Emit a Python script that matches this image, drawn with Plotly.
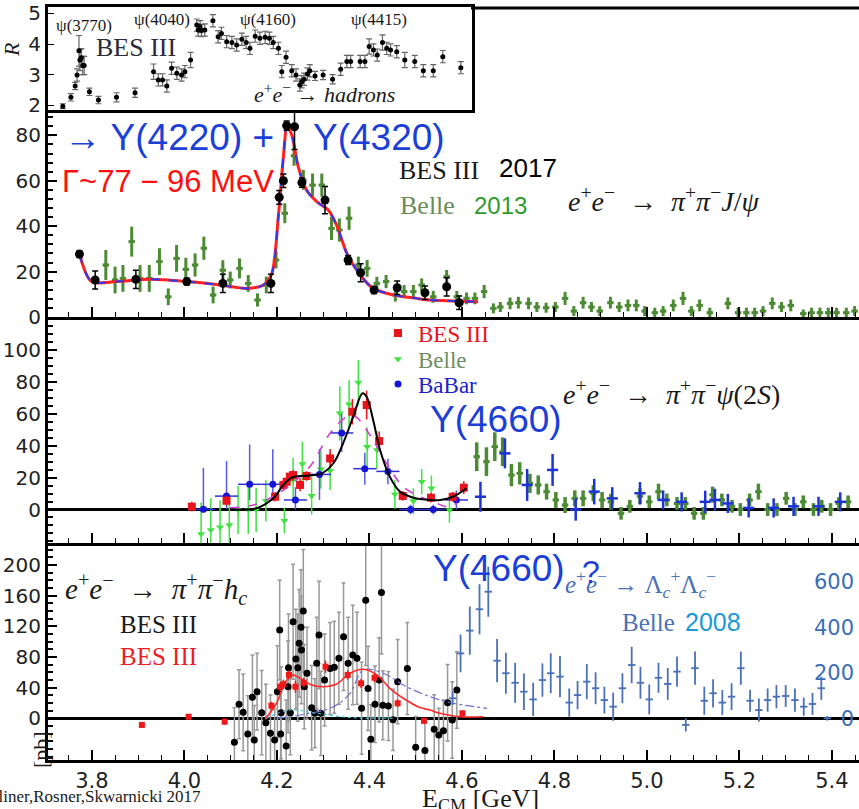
import plotly.graph_objects as go

# ---------------- R ratio (BES III), inset ----------------
r_energy = [3.741, 3.758, 3.767, 3.771, 3.775, 3.777, 3.780, 3.783, 3.786, 3.797,
            3.816, 3.854, 3.893, 3.932, 3.942, 3.951, 3.960, 3.970, 3.981, 3.991,
            3.998, 4.010, 4.023, 4.026, 4.030, 4.033, 4.040, 4.057, 4.068, 4.075,
            4.086, 4.097, 4.107, 4.118, 4.127, 4.135, 4.146, 4.156, 4.167, 4.176,
            4.184, 4.195, 4.202, 4.211, 4.223, 4.232, 4.240, 4.244, 4.249, 4.256,
            4.261, 4.272, 4.289, 4.309, 4.326, 4.339, 4.347, 4.367, 4.377, 4.386,
            4.395, 4.403, 4.414, 4.423, 4.431, 4.444, 4.461, 4.482, 4.500, 4.521,
            4.541, 4.579]
r_value = [1.97, 2.26, 2.63, 2.99, 3.78, 3.48, 3.55, 3.30, 3.30, 2.44,
           2.17, 2.26, 2.41, 3.10, 2.83, 2.83, 2.63, 3.21, 3.05, 2.99,
           3.10, 3.48, 4.62, 4.46, 4.57, 4.44, 4.46, 4.76, 4.24, 4.35,
           4.08, 4.05, 3.97, 4.16, 4.05, 3.86, 4.26, 4.19, 4.22, 4.19,
           4.05, 3.86, 3.10, 3.57, 3.13, 2.99, 2.66, 2.77, 2.85, 3.02,
           3.13, 2.96, 2.99, 2.85, 3.18, 3.43, 3.43, 3.43, 3.43, 3.92,
           3.81, 3.64, 4.05, 3.86, 3.81, 3.75, 3.48, 3.43, 3.13, 3.13,
           3.59, 3.23]
r_error = [0.08, 0.12, 0.12, 0.20, 0.50, 0.35, 0.30, 0.30, 0.30, 0.12,
           0.12, 0.15, 0.15, 0.25, 0.20, 0.20, 0.20, 0.20, 0.20, 0.20,
           0.20, 0.25, 0.20, 0.20, 0.20, 0.20, 0.20, 0.20, 0.20, 0.20,
           0.20, 0.20, 0.20, 0.20, 0.20, 0.20, 0.20, 0.20, 0.20, 0.20,
           0.20, 0.20, 0.20, 0.20, 0.20, 0.20, 0.20, 0.20, 0.20, 0.20,
           0.20, 0.15, 0.15, 0.15, 0.20, 0.20, 0.20, 0.20, 0.20, 0.25,
           0.20, 0.20, 0.25, 0.20, 0.20, 0.20, 0.25, 0.20, 0.20, 0.20,
           0.20, 0.20]

# ---------------- e+e- -> pi+pi- J/psi ----------------
jpsi_bes_energy = [3.773, 3.807, 3.895, 4.005, 4.083, 4.187, 4.205, 4.214, 4.221, 4.238,
                   4.254, 4.304, 4.354, 4.381, 4.410, 4.460, 4.520, 4.567, 4.594]
jpsi_bes_xsec = [27.7, 16.3, 16.6, 15.6, 14.8, 14.8, 52.7, 60.0, 84.3, 83.8,
                 59.2, 51.5, 25.1, 19.5, 11.9, 12.9, 10.7, 13.3, 6.3]
jpsi_bes_err = [1.5, 4, 4, 1.5, 4, 4, 3, 3, 2, 10,
                2, 6, 2, 4, 1.5, 3, 3, 4, 3]

jpsi_belle_energy = [3.830, 3.850, 3.867, 3.886, 3.904, 3.924, 3.946, 3.965, 3.983, 4.003,
                     4.023, 4.042, 4.062, 4.083, 4.099, 4.119, 4.138, 4.158, 4.177, 4.198,
                     4.217, 4.237, 4.257, 4.277, 4.297, 4.318, 4.335, 4.356, 4.376, 4.395,
                     4.416, 4.436, 4.456, 4.475, 4.495, 4.513, 4.538, 4.567, 4.589, 4.610,
                     4.628, 4.648, 4.668, 4.683, 4.704, 4.722, 4.744, 4.762, 4.782, 4.802,
                     4.823, 4.842, 4.862, 4.880, 4.898, 4.921, 4.940, 4.959, 4.977, 4.995,
                     5.017, 5.035, 5.057, 5.078, 5.096, 5.114, 5.136, 5.175, 5.197, 5.215,
                     5.233, 5.251, 5.271, 5.291, 5.311, 5.338, 5.356, 5.374, 5.392, 5.410,
                     5.431, 5.449]
jpsi_belle_xsec = [22.9, 16.3, 17.0, 33.2, 17.0, 17.0, 24.4, 8.9, 25.8, 21.0,
                   22.9, 30.3, 9.7, 20.6, 16.3, 21.4, 14.8, 7.5, 14.1, 25.1,
                   45.7, 71.0, 60.4, 58.1, 58.1, 39.0, 38.3, 43.5, 22.9, 21.4,
                   14.8, 15.6, 9.7, 11.2, 11.2, 14.1, 8.9, 17.8, 8.9, 8.2,
                   8.2, 11.2, 3.8, 4.4, 6.0, 6.3, 6.0, 4.4, 4.1, 4.4,
                   8.2, 2.6, 6.3, 4.4, 2.6, 6.3, 4.4, 5.1, 5.1, 2.6,
                   1.9, 2.6, 5.1, 8.2, 2.6, 5.1, 1.9, 6.0, 1.9, 1.9,
                   1.9, 2.6, 6.0, 4.4, 5.1, 1.5, 1.9, 1.9, 1.9, 1.9,
                   1.9, 2.6]
jpsi_belle_err = [6.6, 5.9, 5.9, 6.6, 5.9, 5.9, 5.9, 3.7, 5.9, 5.1,
                  5.1, 5.1, 3.7, 4.4, 3.7, 4.4, 3.7, 2.9, 3.7, 3.7,
                  4.4, 4.4, 4.4, 5.1, 5.1, 5.1, 5.1, 5.1, 3.7, 3.7,
                  2.9, 2.9, 2.9, 2.9, 2.9, 2.9, 2.6, 2.9, 2.6, 2.6,
                  2.6, 2.9, 2.2, 2.2, 2.6, 2.6, 2.6, 2.2, 2.2, 2.2,
                  2.9, 2.2, 2.6, 2.2, 2.2, 2.6, 2.2, 2.6, 2.6, 2.2,
                  2.2, 2.2, 2.6, 2.9, 2.2, 2.6, 2.2, 2.6, 2.2, 2.2,
                  2.2, 2.2, 2.6, 2.2, 2.6, 1.8, 2.2, 2.2, 2.2, 2.2,
                  2.2, 2.2]

jpsi_fit_energy = [3.773, 3.799, 3.853, 3.926, 4.005, 4.077, 4.135, 4.171, 4.189, 4.203,
                   4.214, 4.222, 4.232, 4.246, 4.264, 4.286, 4.311, 4.329, 4.351, 4.380,
                   4.408, 4.452, 4.502, 4.531, 4.635]
jpsi_fit_xsec = [27.7, 15.6, 15.6, 16.6, 15.6, 14.1, 12.6, 14.1, 19.2, 44.2,
                 70.6, 83.8, 80.2, 66.2, 55.9, 50.8, 47.1, 40.5, 28.1, 18.5,
                 12.6, 9.7, 8.2, 7.5, 6.7]

# ---------------- e+e- -> pi+pi- psi(2S) ----------------
psi2s_bes_energy = [4.016, 4.091, 4.196, 4.214, 4.221, 4.228, 4.235, 4.250, 4.264, 4.315,
                    4.363, 4.394, 4.421, 4.472, 4.533, 4.580, 4.604]
psi2s_bes_xsec = [1.8, 5.5, 8.0, 15.4, 17.4, 20.6, 21.6, 15.4, 21.0, 32.0,
                  61.3, 65.5, 42.9, 8.5, 7.4, 8.0, 13.7]
psi2s_bes_err = [3, 3, 3, 3, 3, 3, 3, 4, 3, 6,
                 8, 9, 6, 3, 3, 3, 4]

psi2s_belle_energy = [4.036, 4.057, 4.077, 4.097, 4.116, 4.138, 4.155, 4.176, 4.216, 4.235,
                      4.255, 4.275, 4.295, 4.315, 4.336, 4.356, 4.376, 4.395, 4.416, 4.455,
                      4.495, 4.513, 4.534, 4.573]
psi2s_belle_xsec = [-15.4, -12.9, -11.2, -9.7, -0.3, -0.3, -0.3, 5.5, -7.0, 18.5,
                    28.5, 8.7, 25.2, 24.3, 60.3, 66.0, 79.7, 39.4, 37.3, 9.5,
                    5.3, 17.4, 13.3, -0.3]
psi2s_belle_err = [20, 20, 17, 17, 15, 15, 14, 13, 8, 14,
                   14, 12, 12, 12, 17, 15, 14, 12, 12, 9,
                   8, 8, 8, 8]

psi2s_babar_energy = [4.041, 4.091, 4.141, 4.191, 4.240, 4.292, 4.340, 4.390, 4.440, 4.489,
                      4.538, 4.588]
psi2s_babar_xsec = [0.1, 8.4, 15.8, 15.8, 6.0, 22.0, 48.0, 25.6, 23.9, 0.0,
                    0.0, 6.0]
psi2s_babar_err_up = [26, 22, 25, 22, 8, 16, 12, 10, 8, 3, 3, 6]
psi2s_babar_err_down = [2, 8, 10, 10, 6, 16, 12, 10, 8, 3, 3, 6]
psi2s_babar_bin = [0.025, 0.025, 0.025, 0.025, 0.025, 0.025, 0.025, 0.025, 0.025, 0.025,
                   0.025, 0.025]

y4660_belle_energy = [4.632, 4.653, 4.671, 4.688, 4.707, 4.725, 4.747, 4.765, 4.783, 4.803,
                      4.823, 4.844, 4.862, 4.884, 4.903, 4.922, 4.944, 4.963, 4.985, 5.005,
                      5.025, 5.043, 5.065, 5.083, 5.102, 5.122, 5.142, 5.162, 5.184, 5.202,
                      5.222, 5.241, 5.261, 5.281, 5.301, 5.320, 5.338, 5.360, 5.378, 5.397,
                      5.415, 5.435]
y4660_belle_xsec = [33.1, 30.0, 39.4, 36.2, 21.6, 22.7, 16.4, 15.4, 11.2, 6.0,
                    2.8, 7.0, 7.0, 10.2, 6.0, 4.8, -2.4, 2.0, 8.3, 4.8,
                    11.2, 6.0, 3.8, 3.8, -2.4, -2.4, 9.3, 6.0, 2.0, 0.0,
                    6.0, 11.2, 0.0, 0.0, 7.0, 0.0, 4.8, 0.0, 2.0, 0.0,
                    3.8, 4.8]
y4660_belle_err = [9, 9, 9, 9, 7, 7, 6, 6, 5, 5,
                   5, 5, 5, 5, 5, 5, 4, 4, 5, 4,
                   5, 4, 4, 4, 4, 4, 5, 4, 4, 4,
                   4, 5, 4, 4, 4, 4, 4, 4, 4, 4,
                   4, 4]

y4660_babar_energy = [4.640, 4.693, 4.741, 4.796, 4.846, 4.886, 4.925, 4.985, 5.035, 5.075,
                      5.126, 5.147, 5.175, 5.220, 5.274, 5.317, 5.371, 5.418]
y4660_babar_xsec = [8.0, 35.2, 15.4, 24.8, 0.0, 11.2, 7.0, 10.2, 6.0, 4.8,
                    4.8, 6.0, 3.8, 1.0, 1.0, 2.0, 2.0, 4.8]
y4660_babar_err = [9.4, 9.4, 10, 10, 7, 8, 7, 7, 6, 6,
                   7, 7, 6, 6, 6, 6, 6, 6]

psi2s_fit_energy = [4.099, 4.156, 4.192, 4.214, 4.232, 4.264, 4.297, 4.322, 4.343, 4.365,
                    4.385, 4.394, 4.408, 4.423, 4.444, 4.466, 4.495, 4.531, 4.553, 4.581,
                    4.610]
psi2s_fit_xsec = [0.0, 0.8, 7.0, 15.4, 20.0, 21.2, 22.7, 29.0, 41.5, 58.2,
                  72.9, 70.7, 56.1, 37.3, 20.6, 11.2, 7.4, 6.0, 6.0, 8.0,
                  13.3]
psi2s_alt_energy = [4.099, 4.149, 4.214, 4.271, 4.315, 4.354, 4.371, 4.401, 4.437, 4.473,
                    4.517, 4.538, 4.567, 4.589]
psi2s_alt_xsec = [1.0, 2.8, 12.2, 26.8, 47.8, 58.6, 58.0, 46.7, 29.0, 14.3,
                  7.0, 4.9, 1.8, 3.9]

# ---------------- e+e- -> pi+pi- h_c  and  Lambda_c pairs ----------------
hc_bes_energy = [4.108, 4.118, 4.127, 4.137, 4.147, 4.151, 4.157, 4.167, 4.176, 4.186,
                 4.195, 4.201, 4.206, 4.208, 4.209, 4.220, 4.224, 4.225, 4.229, 4.235,
                 4.241, 4.245, 4.248, 4.252, 4.253, 4.257, 4.259, 4.265, 4.275, 4.282,
                 4.286, 4.291, 4.295, 4.303, 4.315, 4.324, 4.334, 4.344, 4.354, 4.364,
                 4.373, 4.383, 4.392, 4.397, 4.403, 4.412, 4.421, 4.426, 4.429, 4.441,
                 4.451, 4.461, 4.482, 4.500, 4.520, 4.540, 4.550, 4.560, 4.569, 4.579,
                 4.589]
hc_bes_xsec = [-31.3, 18.3, 7.8, -20.5, 27.4, -28.3, 34.7, 7.3, -5.7, -19.6,
               -28.3, 34.7, 115.0, -20.5, 7.3, -36.0, 41.2, 66.0, 7.3, 126.0,
               77.3, 66.0, 97.8, 118.6, 89.0, 140.0, 41.2, 58.7, 13.8, 6.5,
               71.7, 108.6, 6.5, 50.0, 65.0, 66.5, 78.2, 106.4, 71.7, 82.5,
               78.2, 13.0, 154.0, 39.0, -27.4, 18.3, 50.0, 164.0, 17.0, 16.0,
               -2.0, 47.8, 65.0, -37.8, -42.0, -14.3, -21.8, -16.1, 20.3, -2.2,
               36.9]
hc_bes_err = [45, 45, 50, 50, 55, 45, 50, 55, 50, 50,
              40, 60, 65, 55, 60, 60, 60, 70, 55, 75,
              65, 70, 70, 75, 70, 80, 55, 60, 55, 45,
              60, 70, 55, 60, 60, 60, 60, 70, 60, 65,
              60, 60, 85, 55, 45, 50, 55, 80, 45, 45,
              40, 55, 60, 40, 40, 45, 35, 40, 50, 50,
              50]

hc_xyz_energy = [3.908, 4.009, 4.087, 4.188, 4.207, 4.214, 4.226, 4.240, 4.258, 4.305,
                 4.353, 4.382, 4.411, 4.461, 4.518, 4.601]
hc_xyz_xsec = [-8.7, 2.0, -4.4, 16.4, 41.2, 44.3, 56.5, 41.2, 46.4, 67.3,
               56.5, 45.6, 52.9, 19.6, -3.3, 6.5]
hc_xyz_err = [4, 3, 4, 5, 6, 6, 6, 8, 6, 8,
              6, 6, 6, 5, 4, 4]

hc_fit_energy = [4.176, 4.199, 4.217, 4.232, 4.250, 4.275, 4.300, 4.329, 4.358, 4.387,
                 4.416, 4.444, 4.473, 4.509, 4.531, 4.552, 4.595, 4.646]
hc_fit_xsec = [0.0, 19.6, 45.6, 56.5, 52.2, 43.4, 41.2, 44.7, 58.7, 63.9,
               56.5, 39.1, 26.1, 14.0, 10.8, 6.5, 2.1, 2.0]
hc_broad_energy = [4.200, 4.250, 4.322, 4.358, 4.387, 4.430, 4.480, 4.531, 4.567, 4.603,
                   4.654]
hc_broad_xsec = [0.0, 4.3, 15.0, 32.6, 63.0, 58.7, 41.2, 28.2, 21.6, 17.3,
                 13.0]
hc_narrow_energy = [4.176, 4.228, 4.285, 4.358, 4.450]
hc_narrow_xsec = [0.0, 10.8, 6.5, 1.0, 0.3]

lc_energy = [4.580, 4.597, 4.617, 4.638, 4.657, 4.676, 4.695, 4.715, 4.734, 4.754,
             4.774, 4.792, 4.812, 4.832, 4.850, 4.870, 4.889, 4.908, 4.927, 4.947,
             4.967, 4.986, 5.005, 5.025, 5.045, 5.065, 5.084, 5.104, 5.124, 5.143,
             5.163, 5.183, 5.203, 5.223, 5.242, 5.261, 5.280, 5.300, 5.320, 5.339,
             5.358, 5.377, 5.390]
lc_xsec = [88, 285, 385, 479, 556, 253, 198, 156, 117, 83,
           168, 198, 183, 69, 102, 161, 132, 80, 51, 132,
           234, 156, 83, 178, 151, 205, -29, 220, 77, 110,
           69, 95, 220, 77, 36, 80, 95, 98, 80, 51,
           63, 132, 0]
lc_err = [30, 83, 106, 110, 110, 95, 90, 88, 80, 73,
          73, 88, 91, 62, 62, 77, 70, 59, 62, 66,
          80, 70, 66, 66, 70, 66, 29, 73, 62, 62,
          55, 59, 73, 48, 51, 51, 51, 48, 51, 40,
          48, 51, 10]

energy_ticks = [3.8, 4.0, 4.2, 4.4, 4.6, 4.8, 5.0, 5.2, 5.4]
lc_ticks = [0, 200, 400, 600]
# figure spaces keep the single-digit label flush right with the others
lc_tick_text = ["\u2007\u20070", "200", "400", "600"]

# ---------------- page geometry ----------------
W, H = 859, 809
ML, MR, MT, MB = 48, 0, 5, 49
PW, PH = W - ML - MR, H - MT - MB


def fx(x):
    return (x - ML) / PW


def fy(y):
    return (H - MB - y) / PH


SANS = "Liberation Sans, Arial, sans-serif"
SERIF = "Liberation Serif, Times New Roman, serif"
TICKFONT = "DejaVu Sans, Liberation Sans, sans-serif"
BLUE = "#1b3fd8"
BELLE_DARK = "#4c8a34"
BELLE_LIGHT = "#3fe23f"
LC_BLUE = "#4a70b8"

fig = go.Figure()

# --- R ratio inset
fig.add_trace(go.Scatter(
    x=r_energy, y=r_value, mode="markers", xaxis="x4", yaxis="y5",
    marker=dict(size=5, color="black"),
    error_y=dict(type="data", array=r_error, color="#666", thickness=1.2, width=3),
    showlegend=False))

# --- pi+pi- J/psi
fig.add_trace(go.Scatter(
    x=jpsi_belle_energy, y=jpsi_belle_xsec, mode="markers", xaxis="x3", yaxis="y4",
    marker=dict(size=4, color=BELLE_DARK),
    error_y=dict(type="data", array=jpsi_belle_err, color=BELLE_DARK, thickness=3, width=0),
    error_x=dict(type="constant", value=0.007, color=BELLE_DARK, thickness=3, width=0),
    showlegend=False))
fig.add_trace(go.Scatter(
    x=jpsi_fit_energy, y=jpsi_fit_xsec, mode="lines", xaxis="x3", yaxis="y4",
    line=dict(color="#ff2020", width=3, shape="spline", smoothing=0.8),
    showlegend=False))
fig.add_trace(go.Scatter(
    x=jpsi_fit_energy, y=jpsi_fit_xsec, mode="lines", xaxis="x3", yaxis="y4",
    line=dict(color="#2a3cf0", width=2, dash="dash", shape="spline", smoothing=0.8),
    showlegend=False))
fig.add_trace(go.Scatter(
    x=jpsi_bes_energy, y=jpsi_bes_xsec, mode="markers", xaxis="x3", yaxis="y4",
    marker=dict(size=9, color="black"),
    error_y=dict(type="data", array=jpsi_bes_err, color="black", thickness=1.5, width=3),
    showlegend=False))

# --- pi+pi- psi(2S)
fig.add_trace(go.Scatter(
    x=y4660_belle_energy, y=y4660_belle_xsec, mode="markers", xaxis="x2", yaxis="y3",
    marker=dict(size=4, color=BELLE_DARK),
    error_y=dict(type="data", array=y4660_belle_err, color=BELLE_DARK, thickness=3.5, width=0),
    error_x=dict(type="constant", value=0.007, color=BELLE_DARK, thickness=3, width=0),
    showlegend=False))
fig.add_trace(go.Scatter(
    x=y4660_babar_energy, y=y4660_babar_xsec, mode="markers", xaxis="x2", yaxis="y3",
    marker=dict(size=3, color="#1d33d6"),
    error_y=dict(type="data", array=y4660_babar_err, color="#1d33d6", thickness=2.5, width=0),
    error_x=dict(type="constant", value=0.012, color="#1d33d6", thickness=2.5, width=0),
    showlegend=False))
fig.add_trace(go.Scatter(
    x=psi2s_belle_energy, y=psi2s_belle_xsec, mode="markers", xaxis="x2", yaxis="y3",
    name='<span style="color:#6f8f60">Belle</span>', legend="legend2",
    marker=dict(size=7, color=BELLE_LIGHT, symbol="triangle-down"),
    error_y=dict(type="data", array=psi2s_belle_err, color=BELLE_LIGHT, thickness=1.5, width=0)))
fig.add_trace(go.Scatter(
    x=psi2s_babar_energy, y=psi2s_babar_xsec, mode="markers", xaxis="x2", yaxis="y3",
    name='<span style="color:#2020d0">BaBar</span>', legend="legend3",
    marker=dict(size=7, color="#1515d8"),
    error_y=dict(type="data", symmetric=False, array=psi2s_babar_err_up,
                 arrayminus=psi2s_babar_err_down, color="#5a5ae0", thickness=1.5, width=0),
    error_x=dict(type="data", array=psi2s_babar_bin, color="#3030d8", thickness=1.5, width=0)))
fig.add_trace(go.Scatter(
    x=psi2s_bes_energy, y=psi2s_bes_xsec, mode="markers", xaxis="x2", yaxis="y3",
    name='<span style="color:#e8141c">BES III</span>', legend="legend",
    marker=dict(size=8, color="#e8141c", symbol="square"),
    error_y=dict(type="data", array=psi2s_bes_err, color="#e8141c", thickness=1.5, width=0)))
fig.add_trace(go.Scatter(
    x=psi2s_alt_energy, y=psi2s_alt_xsec, mode="lines", xaxis="x2", yaxis="y3",
    line=dict(color="#d23cd2", width=1.6, dash="dash", shape="spline", smoothing=1.0),
    showlegend=False))
fig.add_trace(go.Scatter(
    x=psi2s_fit_energy, y=psi2s_fit_xsec, mode="lines", xaxis="x2", yaxis="y3",
    line=dict(color="black", width=2, shape="spline", smoothing=1.0),
    showlegend=False))

# --- pi+pi- h_c and Lambda_c+ Lambda_c- (right scale)
fig.add_trace(go.Scatter(
    x=lc_energy, y=lc_xsec, mode="markers", xaxis="x", yaxis="y2",
    marker=dict(size=2, color=LC_BLUE),
    error_y=dict(type="data", array=lc_err, color=LC_BLUE, thickness=1.8, width=0),
    error_x=dict(type="constant", value=0.008, color=LC_BLUE, thickness=1.8, width=0),
    showlegend=False))
fig.add_trace(go.Scatter(
    x=hc_bes_energy, y=hc_bes_xsec, mode="markers", xaxis="x", yaxis="y",
    marker=dict(size=7, color="black"),
    error_y=dict(type="data", array=hc_bes_err, color="#999999", thickness=1.5, width=2),
    showlegend=False))
fig.add_trace(go.Scatter(
    x=hc_narrow_energy, y=hc_narrow_xsec, mode="lines", xaxis="x", yaxis="y",
    line=dict(color="#40c4d8", width=1.2, dash="dot", shape="spline"),
    showlegend=False))
fig.add_trace(go.Scatter(
    x=hc_broad_energy, y=hc_broad_xsec, mode="lines", xaxis="x", yaxis="y",
    line=dict(color="#7070d8", width=1.2, dash="dashdot", shape="spline"),
    showlegend=False))
fig.add_trace(go.Scatter(
    x=hc_fit_energy, y=hc_fit_xsec, mode="lines", xaxis="x", yaxis="y",
    line=dict(color="#ff2a2a", width=1.6, shape="spline", smoothing=1.0),
    showlegend=False))
fig.add_trace(go.Scatter(
    x=hc_xyz_energy, y=hc_xyz_xsec, mode="markers", xaxis="x", yaxis="y",
    marker=dict(size=6, color="#f01818", symbol="square"),
    error_y=dict(type="data", array=hc_xyz_err, color="#f01818", thickness=1.5, width=0),
    showlegend=False))

# ---------------- axes ----------------
x_range = [3.705, 3.705 + PW / 462.5]
p4 = [fy(760), fy(543)]
p3 = [fy(543), fy(317)]
p2 = [fy(317), fy(8)]

xcommon = dict(range=x_range, showline=True, linewidth=3, linecolor="black",
               ticks="inside", ticklen=10, tickwidth=1.5, tickcolor="black",
               tickmode="array", tickvals=energy_ticks,
               minor=dict(dtick=0.05, tick0=3.8, ticks="inside", ticklen=5,
                          tickcolor="black", tickwidth=1.2),
               showgrid=False, zeroline=False, ticklabeloverflow="allow")

ycommon = dict(showline=True, linewidth=3, linecolor="black", ticks="inside",
               ticklen=9, tickwidth=1.5, tickcolor="black", showgrid=False,
               tickfont=dict(family=TICKFONT, size=20, color="#222"),
               zeroline=True, zerolinecolor="black", zerolinewidth=2.5,
               ticklabeloverflow="allow")

fig.update_layout(
    xaxis=dict(**xcommon, domain=[0, 1], anchor="y",
               tickfont=dict(family=TICKFONT, size=21, color="#222"),
               tickformat=".1f"),
    yaxis=dict(**ycommon, domain=p4, anchor="x", range=[-54.4, 228.6],
               tickmode="array", tickvals=[0, 40, 80, 120, 160, 200],
               minor=dict(dtick=10, ticks="inside", ticklen=5, tickcolor="black")),
    yaxis2=dict(overlaying="y", side="right", anchor="free", position=fx(813),
                range=[-183.1, 769.9],
                showline=False, showgrid=False, zeroline=False, ticks="",
                tickmode="array", tickvals=lc_ticks, ticktext=lc_tick_text,
                ticklabeloverflow="allow",
                tickfont=dict(family=TICKFONT, size=21, color="#3b6db8")),
    xaxis2=dict(**xcommon, domain=[0, 1], anchor="y3", matches="x",
                showticklabels=False),
    yaxis3=dict(**ycommon, domain=p3, anchor="x2", range=[-21.0, 120.7],
                tickmode="array", tickvals=[0, 20, 40, 60, 80, 100],
                minor=dict(dtick=5, ticks="inside", ticklen=5, tickcolor="black")),
    xaxis3=dict(**xcommon, domain=[0, 1], anchor="y4", matches="x",
                showticklabels=False),
    yaxis4=dict(**ycommon, domain=p2, anchor="x3", range=[0, 136.1],
                tickmode="array", tickvals=[0, 20, 40, 60, 80],
                minor=dict(tickvals=[4, 8, 12, 16, 24, 28, 32, 36, 44, 48, 52, 56,
                                     64, 68, 72, 76, 84, 88],
                           ticks="inside", ticklen=5, tickcolor="black")),
    xaxis4=dict(domain=[fx(48), fx(472)], anchor="y5", range=[3.7098, 4.6025],
                showline=True, mirror=True, linewidth=3, linecolor="black",
                ticks="", showticklabels=False, showgrid=False, zeroline=False),
    yaxis5=dict(domain=[fy(110), fy(7)], anchor="x4", range=[1.846, 5.212],
                showline=True, mirror=True, linewidth=3, linecolor="black",
                ticks="inside", ticklen=6, tickcolor="black",
                tickmode="array", tickvals=[2, 3, 4, 5],
                ticklabeloverflow="allow",
                tickfont=dict(family=TICKFONT, size=20, color="#222"),
                showgrid=False, zeroline=False),
)

# top frame of the J/psi panel, to the right of the inset
fig.add_shape(type="line", xref="paper", yref="paper",
              x0=fx(471), x1=1, y0=fy(8), y1=fy(8),
              line=dict(color="black", width=3))


def label(text, x, y, size, color="#1a1a1a", family=SERIF, xanchor="left", angle=0):
    fig.add_annotation(text=text, x=fx(x), y=fy(y), xref="paper", yref="paper",
                       xanchor=xanchor, yanchor="middle", showarrow=False,
                       textangle=angle, font=dict(family=family, size=size, color=color))


EPEM = "<i>e</i><sup>+</sup><i>e</i><sup>−</sup>"
PIPI = "<i>π</i><sup>+</sup><i>π</i><sup>−</sup>"

# inset labels
label("ψ(3770)", 84, 26, 17, xanchor="center")
label("ψ(4040)", 162, 20, 17, xanchor="center")
label("ψ(4160)", 268, 20, 17, xanchor="center")
label("ψ(4415)", 379, 20, 17, xanchor="center")
label("BES III", 136, 47, 26, color="#2a2a3a", xanchor="center")
label(EPEM + " → <i>hadrons</i>", 324, 93, 22, xanchor="center")
label("<i>R</i>", 12, 50, 22, xanchor="center", angle=-90)

# J/psi panel labels
label("→ Y(4220) +", 62, 137, 37, color=BLUE, family=SANS)
label("Y(4320)", 311, 137, 37, color=BLUE, family=SANS)
label("Γ~77 − 96 MeV", 60, 181, 31, color="#ff1010", family=SANS)
label("BES III", 397, 170, 26, color="#1a1a1a")
label("2017", 497, 168, 26, color="black", family=SANS)
label("Belle", 398, 206, 26, color="#6a8c5a")
label("2013", 472, 206, 24, color="#2e9a2e", family=SANS)
label(EPEM + "  →  " + PIPI + "<i>J</i>/<i>ψ</i>", 566, 199, 28)

# psi(2S) panel labels
label(EPEM + "  →  " + PIPI + "<i>ψ</i>(2<i>S</i>)", 561, 392, 28)
label("Y(4660)", 428, 420, 37, color=BLUE, family=SANS)

# h_c / Lambda_c panel labels
label(EPEM + "  →  " + PIPI + "<i>h<sub>c</sub></i>", 63, 589, 29)
label("BES III", 118, 624, 25, color="#1a1a1a")
label("BES III", 118, 656, 25, color="#ee1c24")
label(EPEM + " → Λ<sub><i>c</i></sub><sup>+</sup>Λ<sub><i>c</i></sub><sup>−</sup>",
      563, 584, 25, color=LC_BLUE)
label("Y(4660)", 431, 568, 37, color=BLUE, family=SANS)
label("?", 580, 572, 32, color=BLUE, family=SANS)
label("Belle", 620, 622, 25, color=LC_BLUE)
label("2008", 683, 622, 25, color="#1b9ad6", family=SANS)

# outer labels
label("[pb]", 40, 750, 22, xanchor="center", angle=-90)
label("E<sub>CM</sub> [GeV]", 420, 800, 26)
label("Karliner,Rosner,Skwarnicki 2017", 203, 797, 17, xanchor="right")

# one legend box per experiment in the psi(2S) panel
legend_style = dict(xanchor="left", yanchor="middle", bgcolor="rgba(0,0,0,0)",
                    font=dict(family=SERIF, size=23), itemwidth=30)
fig.update_layout(
    width=W, height=H,
    margin=dict(l=ML, r=MR, t=MT, b=MB),
    paper_bgcolor="white", plot_bgcolor="white",
    legend=dict(x=fx(378), y=fy(333), **legend_style),
    legend2=dict(x=fx(378), y=fy(359), **legend_style),
    legend3=dict(x=fx(378), y=fy(384), **legend_style),
)

fig.write_html("out.html")
